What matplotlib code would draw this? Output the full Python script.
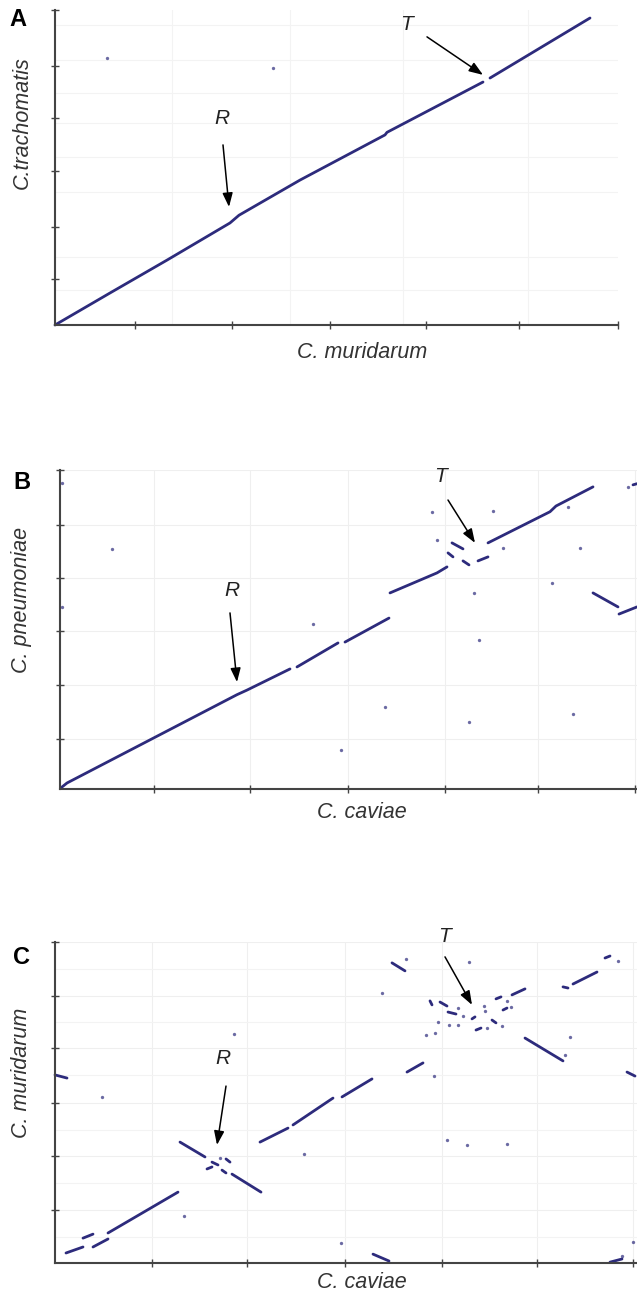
import numpy as np
import matplotlib
matplotlib.use('Agg')
import matplotlib.pyplot as plt

plt.rcParams['font.family'] = ['Liberation Sans', 'DejaVu Sans']

W, H = 637, 1293
INK = '#2d2b7c'

# --- Panel A: C. muridarum (x, kb) vs C. trachomatis (y, kb)
a_xlen, a_ylen = 1126, 1102
a_segs = [
    [(0, 0), (110, 112), (224, 227), (350, 357), (368, 384), (490, 507),
     (660, 665), (664, 674), (856, 850)],
    [(870, 864), (1070, 1074)],
]
a_dots_x = [104, 436]
a_dots_y = [934, 899]
a_xticks = [160, 354, 550, 742, 928, 1126]
a_yticks = [161, 343, 539, 724, 906, 1102]
a_xgrid = [234, 470, 696, 946]
a_ygrid = [122, 238, 343, 465, 588, 707, 812, 927, 1050]

# --- Panel B: C. caviae (x, kb) vs C. pneumoniae (y, kb)
b_xlen, b_ylen = 1154, 1116
b_segs = [
    [(4, 7), (14, 21), (354, 330), (374, 346), (460, 420)],
    [(474, 427), (556, 511)],
    [(570, 514), (658, 598)],
    [(660, 686), (754, 756), (774, 777)],
    [(784, 861), (806, 840)],
    [(776, 826), (786, 812)],
    [(806, 798), (818, 784)],
    [(836, 798), (856, 812)],
    [(856, 861), (980, 970), (992, 990), (1066, 1057)],
    [(1066, 686), (1116, 637)],
    [(1118, 612), (1154, 637)],
    [(1146, 1064), (1154, 1068)],
]
b_dots_x = [104, 4, 4, 506, 744, 754, 866, 886, 1016, 1040, 984, 828, 838,
            650, 818, 1026, 562, 1136]
b_dots_y = [840, 1071, 637, 577, 970, 871, 973, 843, 987, 843, 721, 686, 521,
            287, 234, 262, 136, 1057]
b_xticks = [188, 380, 576, 770, 956, 1150]
b_yticks = [175, 364, 553, 738, 924, 1116]

# --- Panel C: C. caviae (x, kb) vs C. muridarum (y, kb)
c_xlen, c_ylen = 1164, 1123
c_segs = [
    [(22, 35), (56, 56)],
    [(76, 56), (106, 84)],
    [(56, 87), (76, 101)],
    [(106, 105), (246, 248)],
    [(250, 423), (300, 371)],
    [(304, 329), (314, 336)],
    [(314, 353), (326, 343)],
    [(342, 364), (350, 353)],
    [(334, 325), (342, 315)],
    [(354, 311), (412, 248)],
    [(410, 423), (466, 472)],
    [(476, 483), (556, 577)],
    [(574, 581), (634, 644)],
    [(704, 668), (736, 700)],
    [(674, 1050), (700, 1022)],
    [(750, 917), (754, 903)],
    [(770, 913), (784, 899)],
    [(786, 878), (802, 871)],
    [(834, 854), (840, 861)],
    [(842, 815), (852, 822)],
    [(874, 850), (882, 840)],
    [(882, 924), (892, 931)],
    [(896, 885), (904, 892)],
    [(914, 938), (940, 959)],
    [(940, 787), (1016, 707)],
    [(1016, 966), (1026, 962)],
    [(1036, 976), (1084, 1018)],
    [(1100, 1067), (1110, 1074)],
    [(1144, 668), (1160, 654)],
    [(636, 31), (668, 7)],
    [(1110, 3), (1134, 14)],
    [(0, 658), (24, 647)],
]
c_dots_x = [330, 702, 828, 654, 806, 816, 766, 788, 806, 742, 760, 858, 860,
            864, 894, 904, 912, 1020, 1030, 1126, 358, 94, 258, 498, 758, 784,
            824, 904, 572, 1134, 1156]
c_dots_y = [367, 1064, 1053, 945, 892, 864, 843, 833, 833, 798, 805, 899, 882,
            822, 829, 917, 896, 728, 791, 1057, 801, 581, 164, 381, 654, 430,
            413, 416, 70, 24, 73]
c_xticks = [194, 384, 580, 774, 964, 1156]
c_yticks = [185, 374, 560, 752, 934, 1123]
c_ygrid = [92, 280, 467, 656, 843, 1030]

panels = [
    # box (left, right, top, bottom) in px, data, ticks, grids, labels, arrows
    dict(box=(55, 618, 10, 325), xlen=a_xlen, ylen=a_ylen, segs=a_segs,
         dx=a_dots_x, dy=a_dots_y, xt=a_xticks, yt=a_yticks,
         xg=a_xgrid, yg=a_ygrid, major_grid=False,
         letter=('A', 18, 20), ylab=('C.trachomatis', 22, 123),
         xlab=('C. muridarum', 362, 352),
         arrows=[('R', (334, 724), (336, 630), (348, 413)),
                 ('T', (702, 1050), (744, 1008), (856, 875))]),
    dict(box=(60, 637, 470, 789), xlen=b_xlen, ylen=b_ylen, segs=b_segs,
         dx=b_dots_x, dy=b_dots_y, xt=b_xticks, yt=b_yticks,
         xg=[], yg=[], major_grid=True,
         letter=('B', 22, 483), ylab=('C. pneumoniae', 22, 600),
         xlab=('C. caviae', 362, 813),
         arrows=[('R', (344, 696), (340, 616), (354, 374)),
                 ('T', (760, 1092), (776, 1011), (830, 861))]),
    dict(box=(55, 637, 942, 1263), xlen=c_xlen, ylen=c_ylen, segs=c_segs,
         dx=c_dots_x, dy=c_dots_y, xt=c_xticks, yt=c_yticks,
         xg=[], yg=c_ygrid, major_grid=True,
         letter=('C', 22, 957), ylab=('C. muridarum', 22, 1073),
         xlab=('C. caviae', 362, 1282),
         arrows=[('R', (336, 714), (342, 619), (324, 413)),
                 ('T', (780, 1141), (780, 1071), (834, 903))]),
]

fig = plt.figure(figsize=(W / 100, H / 100), dpi=100)

for p in panels:
    l, r, t, b = p['box']
    ax = fig.add_axes([l / W, 1 - b / H, (r - l) / W, (b - t) / H])
    ax.set_xlim(0, p['xlen'])
    ax.set_ylim(0, p['ylen'])
    for s in ['top', 'right']:
        ax.spines[s].set_visible(False)
    for s in ['left', 'bottom']:
        ax.spines[s].set_color('#444444')
        ax.spines[s].set_linewidth(1.5)
    ax.set_xticks(p['xt'])
    ax.set_yticks(p['yt'])
    ax.set_xticklabels([])
    ax.set_yticklabels([])
    ax.tick_params(direction='inout', length=6, width=1, color='#444444')
    if p['xg']:
        ax.set_xticks(p['xg'], minor=True)
    if p['yg']:
        ax.set_yticks(p['yg'], minor=True)
    ax.tick_params(which='minor', length=0)
    ax.grid(which='minor', color='#f3f3f3', lw=0.8)
    if p['major_grid']:
        ax.grid(which='major', color='#efefef', lw=0.8)
    ax.set_axisbelow(True)

    for seg in p['segs']:
        xs = [v[0] for v in seg]
        ys = [v[1] for v in seg]
        ax.plot(xs, ys, color=INK, lw=2.0, solid_capstyle='round', clip_on=False)
    ax.plot(p['dx'], p['dy'], 'o', color=INK, ms=2.4, alpha=0.7, mec='none',
            clip_on=False)

    for lab, txt, tail, head in p['arrows']:
        ax.text(txt[0], txt[1], lab, fontsize=15, style='italic',
                ha='center', va='center', clip_on=False, color='#222222')
        ax.annotate('', xy=head, xytext=tail, annotation_clip=False,
                    arrowprops=dict(arrowstyle='-|>,head_length=0.6,head_width=0.22',
                                    color='k', lw=1.1,
                                    mutation_scale=14, shrinkA=0, shrinkB=0))

    name, px, py = p['letter']
    fig.text(px / W, 1 - py / H, name, fontsize=17, fontweight='bold',
             ha='center', va='center')
    name, px, py = p['ylab']
    fig.text(px / W, 1 - py / H, name, fontsize=15.5, style='italic',
             rotation=90, ha='center', va='center', color='#333333')
    name, px, py = p['xlab']
    fig.text(px / W, 1 - py / H, name, fontsize=15.5, style='italic',
             ha='center', va='center', color='#333333')

fig.savefig('out.png', dpi=100, facecolor='white')
